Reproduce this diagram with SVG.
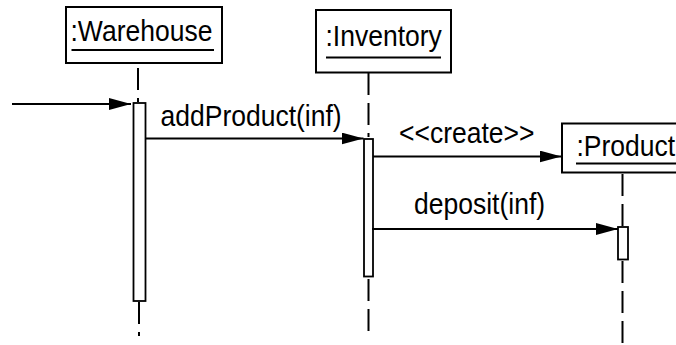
<svg xmlns="http://www.w3.org/2000/svg" width="676" height="345" viewBox="0 0 676 345">
  <style>
    .box { fill: #fff; stroke: #000; stroke-width: 2; }
    .act { fill: #fff; stroke: #000; stroke-width: 1.8; }
    .life { stroke: #000; stroke-width: 2; stroke-dasharray: 22 8; fill: none; }
    .ul { stroke: #000; stroke-width: 1.8; }
    .msg { stroke: #000; stroke-width: 1.8; fill: none; marker-end: url(#head); }
    text { font-family: "Liberation Sans", Arial, sans-serif; font-size: 26.5px; fill: #000; }
  </style>
  <defs>
    <marker id="head" markerUnits="userSpaceOnUse" markerWidth="23" markerHeight="12" refX="22" refY="6" orient="auto">
      <path d="M0,0 L22,6 L0,12 z" fill="#000"/>
    </marker>
  </defs>
  <rect width="676" height="345" fill="#fff"/>

  <!-- lifelines -->
  <g id="lifelines">
    <line class="life" x1="138" y1="68" x2="138" y2="102"/>
    <line class="life" x1="139" y1="302" x2="139" y2="336"/>
    <line class="life" x1="368.5" y1="73" x2="368.5" y2="137"/>
    <line class="life" x1="368.5" y1="279" x2="368.5" y2="331"/>
    <line class="life" x1="622.5" y1="174" x2="622.5" y2="226"/>
    <line class="life" x1="622.5" y1="261" x2="622.5" y2="345"/>
  </g>

  <g id="warehouse">
    <rect class="box" x="66" y="7" width="156" height="56"/>
    <text transform="translate(70.5,41) scale(1,1.08)">:Warehouse</text>
    <line class="ul" x1="71.5" y1="50" x2="214" y2="50"/>
    <rect class="act" x="133.5" y="103" width="12" height="198"/>
  </g>

  <g id="inventory">
    <rect class="box" x="316" y="10" width="135" height="62.5"/>
    <text transform="translate(325.5,46) scale(1,1.08)">:Inventory</text>
    <line class="ul" x1="326" y1="57.5" x2="441" y2="57.5"/>
    <rect class="act" x="364" y="139" width="9" height="137.5"/>
  </g>

  <g id="product">
    <rect class="box" x="562" y="123.5" width="130" height="49"/>
    <text transform="translate(576.5,155.5) scale(1,1.08)">:Product</text>
    <line class="ul" x1="576" y1="163.5" x2="680" y2="163.5"/>
    <rect class="act" x="618" y="227" width="10" height="32.5"/>
  </g>

  <!-- messages -->
  <g id="connectors">
    <line class="msg" x1="12" y1="104" x2="131" y2="104"/>
    <line class="msg" x1="146" y1="138.5" x2="363.5" y2="138.5"/>
    <line class="msg" x1="373" y1="156.5" x2="561.5" y2="156.5"/>
    <line class="msg" x1="372" y1="229" x2="618" y2="229"/>
    <text transform="translate(160.5,125.5) scale(1,1.08)">addProduct(inf)</text>
    <text transform="translate(399,142.5) scale(1,1.08)">&lt;&lt;create&gt;&gt;</text>
    <text transform="translate(414,213.5) scale(1,1.08)">deposit(inf)</text>
  </g>
</svg>
